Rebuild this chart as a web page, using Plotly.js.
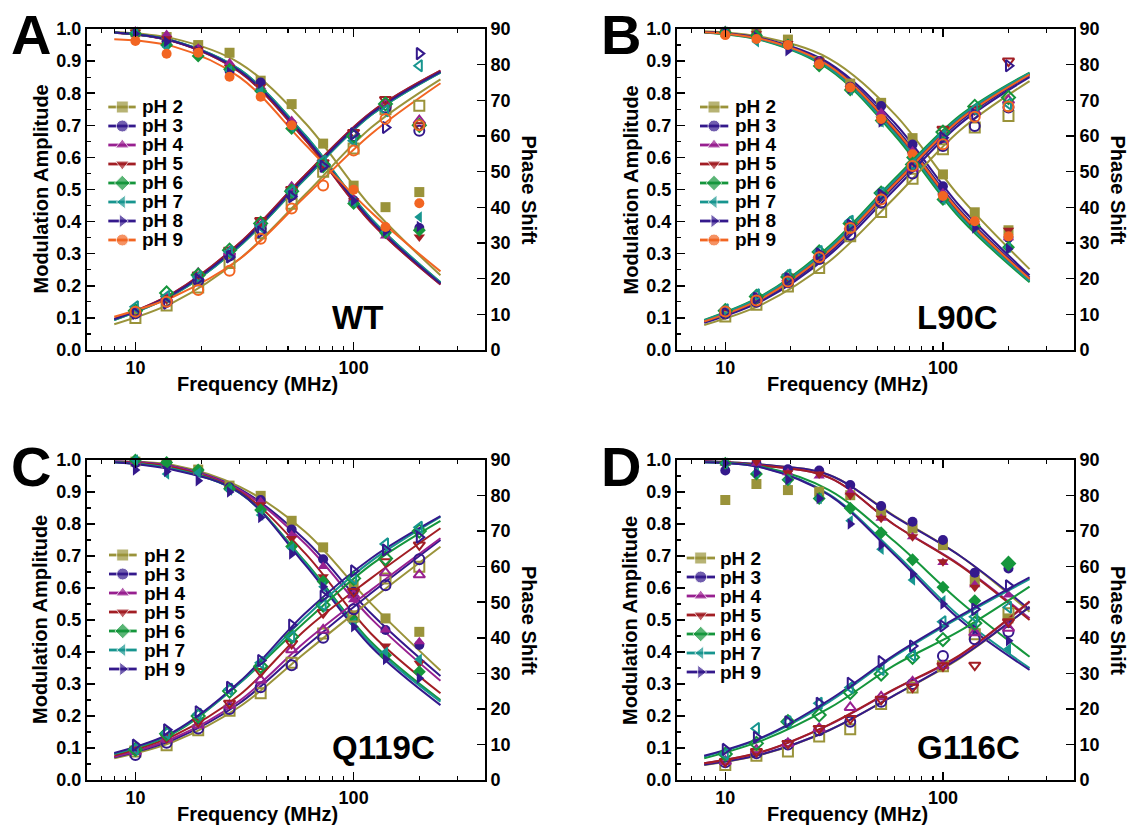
<!DOCTYPE html>
<html><head><meta charset="utf-8">
<script src="https://cdn.plot.ly/plotly-3.0.1.min.js"></script>
<style>html,body{margin:0;padding:0;background:#fff}#chart{width:1133px;height:827px}</style>
</head><body><div id="chart"></div>
<script>
// ---------------- DATA ----------------
const FREQ = [10, 13.9, 19.4, 27, 37.5, 52, 72.5, 100, 140, 200];      // MHz, measured points
const FIT_FREQ = [8, 15, 30, 60, 120, 250];                               // MHz, read points on fit curves

const A_labels = ['pH 2','pH 3','pH 4','pH 5','pH 6','pH 7','pH 8','pH 9'];
const A_mod = [
  [0.990, 0.975, 0.950, 0.926, 0.839, 0.766, 0.643, 0.512, 0.445, 0.492],
  [0.985, 0.960, 0.935, 0.870, 0.833, 0.705, 0.575, 0.466, 0.365, 0.380],
  [0.994, 0.983, 0.940, 0.895, 0.820, 0.715, 0.580, 0.470, 0.355, 0.380],
  [0.990, 0.970, 0.935, 0.880, 0.820, 0.700, 0.575, 0.465, 0.370, 0.352],
  [0.985, 0.950, 0.916, 0.875, 0.807, 0.690, 0.570, 0.456, 0.365, 0.373],
  [0.990, 0.944, 0.925, 0.870, 0.807, 0.694, 0.575, 0.460, 0.370, 0.414],
  [0.985, 0.960, 0.930, 0.865, 0.830, 0.700, 0.575, 0.465, 0.370, 0.385],
  [0.963, 0.923, 0.926, 0.851, 0.789, 0.700, 0.585, 0.499, 0.383, 0.457]
];
const A_phase = [
  [9.0, 12.5, 17.5, 24.4, 32.7, 41.0, 50.0, 56.5, 67.5, 68.5],
  [10.3, 13.5, 19.5, 26.5, 34.0, 43.5, 52.0, 60.0, 68.0, 61.5],
  [10.5, 14.5, 21.5, 27.5, 35.5, 45.6, 52.5, 60.5, 69.0, 64.3],
  [10.5, 14.5, 21.0, 28.0, 36.3, 45.0, 52.5, 61.0, 70.2, 62.9],
  [11.0, 16.0, 21.0, 28.0, 35.5, 44.5, 52.0, 60.0, 69.0, 63.0],
  [12.1, 15.0, 20.5, 27.5, 34.7, 44.5, 53.0, 58.7, 67.1, 79.7],
  [10.3, 13.1, 19.8, 26.1, 33.1, 43.0, 51.5, 60.6, 62.4, 83.1],
  [10.7, 13.5, 16.8, 22.2, 31.2, 39.7, 46.1, 55.9, 64.8, 63.0]
];
const A_fitMod = [
  [0.991, 0.970, 0.894, 0.707, 0.447, 0.233],
  [0.989, 0.962, 0.870, 0.662, 0.404, 0.207],
  [0.988, 0.961, 0.866, 0.655, 0.398, 0.204],
  [0.988, 0.961, 0.866, 0.655, 0.398, 0.204],
  [0.989, 0.963, 0.874, 0.669, 0.410, 0.211],
  [0.989, 0.963, 0.874, 0.669, 0.410, 0.211],
  [0.989, 0.962, 0.870, 0.662, 0.404, 0.207],
  [0.968, 0.945, 0.850, 0.640, 0.430, 0.245]
];
const A_fitPhase = [
  [7.2, 13.4, 25.5, 43.6, 62.3, 75.9],
  [8.6, 15.8, 29.5, 48.5, 66.2, 78.0],
  [8.7, 16.1, 30.0, 49.1, 66.6, 78.3],
  [8.7, 16.1, 30.0, 49.1, 66.6, 78.3],
  [8.4, 15.5, 29.1, 48.0, 65.8, 77.8],
  [8.4, 15.5, 29.1, 48.0, 65.8, 77.8],
  [8.6, 15.8, 29.5, 48.5, 66.2, 78.0],
  [9.3, 15.0, 25.5, 43.0, 60.5, 74.8]
];

const B_labels = ['pH 2','pH 3','pH 4','pH 5','pH 6','pH 7','pH 8','pH 9'];
const B_mod = [
  [0.990, 0.985, 0.967, 0.900, 0.830, 0.770, 0.660, 0.547, 0.429, 0.373],
  [0.990, 0.980, 0.950, 0.900, 0.820, 0.760, 0.640, 0.510, 0.390, 0.350],
  [0.995, 0.990, 0.955, 0.900, 0.820, 0.740, 0.620, 0.490, 0.385, 0.350],
  [0.990, 0.985, 0.955, 0.900, 0.815, 0.720, 0.610, 0.480, 0.385, 0.373],
  [0.990, 0.980, 0.950, 0.885, 0.810, 0.715, 0.600, 0.469, 0.385, 0.320],
  [0.990, 0.960, 0.950, 0.890, 0.810, 0.710, 0.600, 0.469, 0.385, 0.320],
  [0.990, 0.975, 0.932, 0.890, 0.815, 0.710, 0.600, 0.475, 0.380, 0.315],
  [0.981, 0.969, 0.950, 0.890, 0.818, 0.720, 0.610, 0.480, 0.401, 0.354]
];
const B_phase = [
  [9.4, 12.7, 17.8, 23.0, 31.9, 38.7, 48.0, 56.3, 62.4, 65.6],
  [10.2, 13.5, 19.0, 25.5, 32.3, 41.3, 49.5, 57.2, 62.8, 68.0],
  [10.5, 14.5, 20.0, 26.5, 34.5, 43.0, 51.0, 59.0, 67.0, 70.0],
  [10.5, 14.5, 20.5, 27.0, 35.0, 43.5, 51.5, 61.9, 67.5, 81.0],
  [11.0, 15.0, 20.5, 27.5, 35.5, 44.0, 52.0, 61.1, 68.3, 70.8],
  [11.3, 15.5, 21.0, 27.6, 36.1, 44.0, 52.0, 60.0, 67.5, 69.0],
  [10.5, 14.5, 20.0, 27.0, 35.0, 43.5, 51.0, 59.5, 66.0, 79.7],
  [10.8, 13.9, 19.2, 26.0, 34.2, 42.2, 51.6, 57.7, 65.4, 68.3]
];
const B_fitMod = [
  [0.993, 0.974, 0.908, 0.735, 0.476, 0.252],
  [0.991, 0.970, 0.894, 0.707, 0.447, 0.233],
  [0.990, 0.967, 0.885, 0.689, 0.429, 0.222],
  [0.990, 0.966, 0.881, 0.682, 0.423, 0.219],
  [0.989, 0.963, 0.874, 0.669, 0.410, 0.211],
  [0.990, 0.965, 0.878, 0.676, 0.417, 0.215],
  [0.991, 0.968, 0.888, 0.695, 0.435, 0.226],
  [0.990, 0.967, 0.885, 0.689, 0.429, 0.222]
];
const B_fitPhase = [
  [7.0, 13.0, 24.8, 42.7, 61.6, 75.4],
  [7.6, 14.0, 26.6, 45.0, 63.4, 76.5],
  [8.0, 14.7, 27.8, 46.5, 64.6, 77.2],
  [8.1, 15.0, 28.2, 47.0, 65.0, 77.4],
  [8.4, 15.5, 29.1, 48.0, 65.8, 77.8],
  [8.3, 15.3, 28.6, 47.5, 65.4, 77.6],
  [7.9, 14.5, 27.3, 46.0, 64.2, 77.0],
  [8.0, 14.7, 27.8, 46.5, 64.6, 77.2]
];

const C_labels = ['pH 2','pH 3','pH 4','pH 5','pH 6','pH 7','pH 9'];
const C_mod = [
  [0.995, 0.990, 0.970, 0.920, 0.888, 0.810, 0.727, 0.609, 0.505, 0.463],
  [0.990, 0.985, 0.965, 0.915, 0.875, 0.783, 0.690, 0.588, 0.469, 0.422],
  [0.995, 0.990, 0.969, 0.915, 0.870, 0.766, 0.667, 0.563, 0.469, 0.432],
  [0.995, 0.990, 0.965, 0.910, 0.860, 0.755, 0.635, 0.521, 0.419, 0.365],
  [1.000, 0.992, 0.969, 0.910, 0.844, 0.730, 0.620, 0.500, 0.390, 0.338],
  [1.000, 0.956, 0.960, 0.906, 0.828, 0.724, 0.604, 0.490, 0.400, 0.377],
  [0.969, 0.964, 0.935, 0.900, 0.820, 0.706, 0.604, 0.479, 0.377, 0.318]
];
const C_phase = [
  [8.0, 9.8, 14.0, 19.5, 24.4, 33.0, 41.2, 46.0, 56.7, 60.0],
  [7.0, 10.5, 14.5, 20.0, 26.1, 32.3, 40.0, 48.0, 54.8, 62.1],
  [8.0, 11.5, 15.5, 21.0, 28.1, 36.6, 42.2, 52.0, 58.3, 57.7],
  [8.4, 12.0, 16.4, 21.6, 30.5, 38.4, 47.1, 53.0, 61.4, 66.1],
  [8.6, 13.0, 18.0, 25.0, 32.0, 40.3, 49.2, 56.7, 62.3, 70.0],
  [8.8, 13.2, 18.5, 25.5, 33.0, 40.3, 49.2, 56.7, 66.4, 71.1],
  [9.8, 14.1, 19.2, 26.1, 33.6, 43.6, 51.7, 58.8, 64.7, 68.3]
];
const C_fitMod = [
  [0.995, 0.984, 0.917, 0.776, 0.552, 0.342],
  [0.995, 0.980, 0.910, 0.750, 0.521, 0.325],
  [0.995, 0.979, 0.907, 0.738, 0.505, 0.310],
  [0.994, 0.976, 0.902, 0.708, 0.458, 0.271],
  [0.993, 0.972, 0.898, 0.682, 0.432, 0.250],
  [0.993, 0.971, 0.897, 0.678, 0.425, 0.245],
  [0.993, 0.969, 0.898, 0.672, 0.417, 0.234]
];
const C_fitPhase = [
  [6.1, 10.8, 20.6, 35.8, 50.6, 65.6],
  [6.4, 11.4, 21.6, 37.5, 52.5, 67.5],
  [6.5, 11.8, 22.3, 38.9, 53.4, 68.0],
  [6.9, 12.5, 23.9, 42.2, 56.7, 70.8],
  [7.3, 13.2, 27.2, 44.5, 60.5, 72.9],
  [7.4, 13.4, 27.2, 45.8, 61.5, 74.0],
  [7.6, 13.6, 27.6, 46.9, 62.3, 74.2]
];

const D_labels = ['pH 2','pH 3','pH 4','pH 5','pH 6','pH 7','pH 9'];
const D_mod = [
  [0.875, 0.925, 0.906, 0.901, 0.890, 0.840, 0.786, 0.734, 0.625, 0.505],
  [0.967, 0.990, 0.971, 0.967, 0.922, 0.856, 0.807, 0.750, 0.648, 0.661],
  [0.990, 0.990, 0.960, 0.950, 0.900, 0.818, 0.760, 0.680, 0.610, 0.578],
  [0.990, 0.995, 0.960, 0.956, 0.890, 0.818, 0.760, 0.682, 0.602, 0.492],
  [0.990, 0.956, 0.938, 0.880, 0.849, 0.773, 0.688, 0.602, 0.560, 0.677],
  [0.990, 0.960, 0.938, 0.880, 0.810, 0.721, 0.625, 0.560, 0.480, 0.410],
  [0.990, 0.960, 0.938, 0.880, 0.800, 0.734, 0.644, 0.550, 0.470, 0.435]
];
const D_phase = [
  [4.2, 6.8, 8.0, 12.2, 14.3, 21.4, 26.0, 32.0, 41.0, 46.9],
  [5.0, 7.5, 10.0, 14.0, 16.4, 22.0, 27.0, 34.9, 39.6, 41.7],
  [5.2, 8.5, 10.3, 14.5, 20.4, 23.4, 27.6, 32.1, 41.4, 42.7],
  [5.2, 8.0, 10.3, 14.5, 17.3, 22.7, 26.1, 32.1, 32.3, 44.5],
  [7.3, 10.3, 16.4, 18.3, 24.6, 29.8, 34.5, 39.5, 44.1, 60.9],
  [7.3, 14.5, 16.4, 21.6, 26.0, 31.1, 35.0, 44.5, 45.9, 48.6],
  [8.6, 12.0, 16.4, 21.6, 27.2, 33.3, 37.7, 43.3, 48.0, 54.6]
];
const D_fitMod = [
  [0.996, 0.985, 0.953, 0.825, 0.700, 0.526],
  [0.996, 0.985, 0.953, 0.823, 0.700, 0.533],
  [0.995, 0.982, 0.945, 0.797, 0.672, 0.505],
  [0.995, 0.982, 0.945, 0.797, 0.670, 0.500],
  [0.993, 0.978, 0.906, 0.745, 0.557, 0.385],
  [0.993, 0.976, 0.893, 0.710, 0.510, 0.350],
  [0.993, 0.975, 0.890, 0.703, 0.500, 0.344]
];
const D_fitPhase = [
  [4.2, 7.3, 14.0, 23.9, 34.3, 48.7],
  [4.3, 7.4, 14.0, 23.9, 34.5, 48.7],
  [4.7, 8.0, 15.5, 25.5, 35.0, 50.1],
  [4.7, 8.1, 15.6, 25.6, 35.2, 50.3],
  [6.1, 11.3, 20.2, 32.3, 42.0, 54.4],
  [6.6, 12.0, 22.0, 34.8, 45.8, 56.5],
  [6.8, 12.2, 22.5, 35.2, 46.2, 57.0]
];

const SAMPLE_NAMES = ['WT', 'L90C', 'Q119C', 'G116C'];
const PANEL_LETTERS = ['A', 'B', 'C', 'D'];

// ---------------- STYLES ----------------
const OLIVE = '#9a933a', NAVY = '#34198c', PURPLE = '#982090', WINE = '#a21e24',
      GREEN = '#15963c', TEAL = '#17958f', ORANGE = '#f26522';
const AB_colors = [OLIVE, NAVY, PURPLE, WINE, GREEN, TEAL, NAVY, ORANGE];
const AB_symbols = ['square','circle','triangle-up','triangle-down','diamond','triangle-left','triangle-right','circle'];
const CD_colors = [OLIVE, NAVY, PURPLE, WINE, GREEN, TEAL, NAVY];
const CD_symbols = ['square','circle','triangle-up','triangle-down','diamond','triangle-left','triangle-right'];

const FONT = 'Arial, "Liberation Sans", sans-serif';
const W = 1133, H = 827;
const px = x => x / W, py = y => 1 - y / H;

// panel boxes in pixels
const BOXES = [
  {l: 87,  r: 485,  t: 29,  b: 350, leg: {x0: 108.3, xm: 122.3, x1: 135.7, xt: 140, y0: 107}},
  {l: 677, r: 1074, t: 29,  b: 350, leg: {x0: 700,   xm: 714,   x1: 728.3, xt: 732.7, y0: 107}},
  {l: 87,  r: 485,  t: 460, b: 780, leg: {x0: 109,   xm: 122.7, x1: 136.7, xt: 141.7, y0: 555}},
  {l: 677, r: 1074, t: 460, b: 780, leg: {x0: 686.7, xm: 700.7, x1: 715,   xt: 718.3, y0: 558}}
];
const PANELS = [
  {labels: A_labels, mod: A_mod, phase: A_phase, fitMod: A_fitMod, fitPhase: A_fitPhase, colors: AB_colors, symbols: AB_symbols},
  {labels: B_labels, mod: B_mod, phase: B_phase, fitMod: B_fitMod, fitPhase: B_fitPhase, colors: AB_colors, symbols: AB_symbols},
  {labels: C_labels, mod: C_mod, phase: C_phase, fitMod: C_fitMod, fitPhase: C_fitPhase, colors: CD_colors, symbols: CD_symbols},
  {labels: D_labels, mod: D_mod, phase: D_phase, fitMod: D_fitMod, fitPhase: D_fitPhase, colors: CD_colors, symbols: CD_symbols}
];

const tickFont = {family: FONT, size: 18, color: '#000', weight: 'bold'};
const layout = {
  width: W, height: H, margin: {l: 0, r: 0, t: 0, b: 0},
  paper_bgcolor: '#fff', plot_bgcolor: 'rgba(0,0,0,0)',
  showlegend: false, annotations: [], font: {family: FONT, color: '#000'}
};
const lineTraces = [], markerTraces = [], legendTraces = [];

PANELS.forEach((P, i) => {
  const B = BOXES[i];
  const xn = i + 1, ym = 2 * i + 1, yp = 2 * i + 2, lx = i + 5, ly = i + 9;
  const xs = xn === 1 ? 'x' : 'x' + xn;
  const yms = ym === 1 ? 'y' : 'y' + ym;
  const yps = 'y' + yp;
  const xdom = [px(B.l), px(B.r)], ydom = [py(B.b), py(B.t)];

  layout['xaxis' + (xn === 1 ? '' : xn)] = {
    type: 'log', domain: xdom, anchor: yms, range: [Math.log10(6), Math.log10(400)],
    tickmode: 'array', tickvals: [10, 100], ticktext: ['10', '100'],
    ticks: 'inside', ticklen: 8, tickwidth: 1.5, tickcolor: '#000',
    showline: true, linecolor: '#000', linewidth: 2, mirror: 'ticks',
    showgrid: false, zeroline: false, tickfont: tickFont, fixedrange: true,
    minor: {tickmode: 'array', tickvals: [6,7,8,9,20,30,40,50,60,70,80,90,200,300],
            ticks: 'inside', ticklen: 4, tickwidth: 1.2, tickcolor: '#000', showgrid: false}
  };
  layout['yaxis' + (ym === 1 ? '' : ym)] = {
    domain: ydom, anchor: xs, range: [0, 1], dtick: 0.1, tick0: 0, tickformat: '.1f',
    ticks: 'inside', ticklen: 8, tickwidth: 1.5, tickcolor: '#000',
    showline: true, linecolor: '#000', linewidth: 2, showgrid: false, zeroline: false,
    tickfont: tickFont, fixedrange: true,
    minor: {dtick: 0.05, ticks: 'inside', ticklen: 4, tickwidth: 1.2, tickcolor: '#000', showgrid: false}
  };
  layout['yaxis' + yp] = {
    overlaying: yms, side: 'right', anchor: xs, range: [0, 90], dtick: 10, tick0: 0,
    ticks: 'inside', ticklen: 8, tickwidth: 1.5, tickcolor: '#000',
    showline: true, linecolor: '#000', linewidth: 2, showgrid: false, zeroline: false,
    tickfont: tickFont, fixedrange: true
  };
  // hidden overlay axes used only to place the hand-drawn legend (pixel units)
  layout['xaxis' + lx] = {overlaying: xs, anchor: 'y' + ly, range: [B.l, B.r], visible: false, fixedrange: true};
  layout['yaxis' + ly] = {overlaying: yms, anchor: 'x' + lx, range: [B.b, B.t], visible: false, fixedrange: true};

  P.labels.forEach((lab, k) => {
    const c = P.colors[k], s = P.symbols[k];
    lineTraces.push({x: FIT_FREQ, y: P.fitMod[k], xaxis: xs, yaxis: yms, mode: 'lines',
      line: {color: c, width: 2, shape: 'spline', smoothing: 1}, hoverinfo: 'skip'});
    lineTraces.push({x: FIT_FREQ, y: P.fitPhase[k], xaxis: xs, yaxis: yps, mode: 'lines',
      line: {color: c, width: 2, shape: 'spline', smoothing: 1}, hoverinfo: 'skip'});
    markerTraces.push({x: FREQ, y: P.mod[k], xaxis: xs, yaxis: yms, mode: 'markers', name: lab,
      cliponaxis: false, marker: {symbol: s, color: c, size: 10, line: {width: 0}}});
    markerTraces.push({x: FREQ, y: P.phase[k], xaxis: xs, yaxis: yps, mode: 'markers', name: lab,
      cliponaxis: false, marker: {symbol: s + '-open', color: c, size: 10, line: {width: 2, color: c}}});
    // legend entry
    const L = B.leg, yy = L.y0 + 19 * k;
    legendTraces.push({x: [L.x0, L.xm, L.x1], y: [yy, yy, yy], xaxis: 'x' + lx, yaxis: 'y' + ly,
      mode: 'lines+markers', line: {color: c, width: 2.8}, marker: {symbol: s, color: c, size: [0, 12, 0]},
      hoverinfo: 'skip', cliponaxis: false});
    layout.annotations.push({xref: 'x' + lx, yref: 'y' + ly, x: L.xt, y: yy, xanchor: 'left', yanchor: 'middle',
      text: lab, showarrow: false, font: {family: FONT, size: 19, color: '#000', weight: 'bold'}});
  });

  const cy = (B.t + B.b) / 2;
  const titleFont = {family: FONT, size: 20, color: '#000', weight: 'bold'};
  layout.annotations.push({xref: 'paper', yref: 'paper', x: px(B.l - 47), y: py(cy), text: 'Modulation Amplitude',
    textangle: -90, showarrow: false, xanchor: 'center', yanchor: 'middle', font: titleFont});
  layout.annotations.push({xref: 'paper', yref: 'paper', x: px(B.r + 44), y: py(cy), text: 'Phase Shift',
    textangle: 90, showarrow: false, xanchor: 'center', yanchor: 'middle', font: titleFont});
  layout.annotations.push({xref: 'paper', yref: 'paper', x: px(B.l + 170), y: py(B.b + 34), text: 'Frequency (MHz)',
    showarrow: false, xanchor: 'center', yanchor: 'middle', font: titleFont});
  layout.annotations.push({xref: 'paper', yref: 'paper', x: px(B.l - 56), y: py(B.t + 6), text: PANEL_LETTERS[i],
    showarrow: false, xanchor: 'center', yanchor: 'middle', font: {family: FONT, size: 56, color: '#000', weight: 'bold'}});
  const sx = [357, 957, 383, 968][i];
  layout.annotations.push({xref: 'paper', yref: 'paper', x: px(sx), y: py(B.b - 33), text: SAMPLE_NAMES[i],
    showarrow: false, xanchor: 'center', yanchor: 'middle', font: {family: FONT, size: 33, color: '#000', weight: 'bold'}});
});

Plotly.newPlot('chart', [...lineTraces, ...markerTraces, ...legendTraces], layout,
  {staticPlot: true, displayModeBar: false});
</script></body></html>
